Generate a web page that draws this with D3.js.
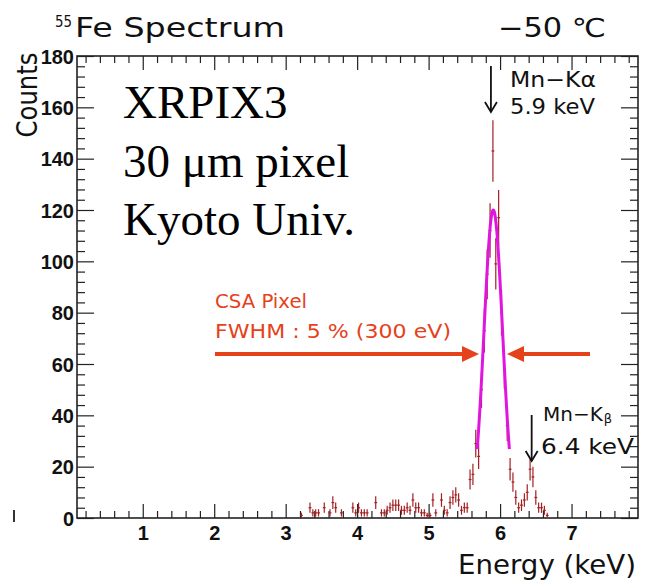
<!DOCTYPE html>
<html><head><meta charset="utf-8">
<script src="https://cdn.jsdelivr.net/npm/d3@7"></script>
<style>html,body{margin:0;padding:0;background:#fff;}svg{display:block;}</style>
</head><body>
<svg id="c" width="654" height="583"></svg>
<script>
// ---- data ----
const binEnergy = [3.22,3.26,3.30,3.34,3.38,3.42,3.46,3.50,3.54,3.58,3.62,3.66,3.70,3.74,3.78,3.82,3.86,3.90,3.94,3.98,
  4.02,4.06,4.10,4.14,4.18,4.22,4.26,4.30,4.34,4.38,4.42,4.46,4.50,4.54,4.58,4.62,4.66,4.70,4.74,4.78,
  4.82,4.86,4.90,4.94,4.98,5.02,5.06,5.10,5.14,5.18,5.22,5.26,5.30,5.34,5.38,5.42,5.46,5.50,5.54,5.58,
  5.62,5.66,5.70,5.74,5.78,5.82,5.86,5.90,5.94,5.98,6.02,6.06,6.10,6.14,6.18,6.22,6.26,6.30,6.34,6.38,
  6.42,6.46,6.50,6.54,6.58,6.62,6.66];
const binCounts = [1,0,0,4,2,2,2,0,4,0,2,6,4,0,2,0,0,0,4,2,
  4,2,2,2,0,0,6,0,2,2,3,4,5,5,5,3,3,4,3,7,
  4,4,2,2,1,1,7,2,0,7,3,2,6,8,9,7,3,4,4,15,
  17,29,24,50,73,95,112,143,99,117,80,58,36,19,14,8,4,5,7,10,
  19,16,8,4,4,3,1];
const binWidth = 0.04;
// Gaussian fit parameters (Mn-Kα line)
const fitAmp = 120, fitMean = 5.905, fitSigma = 0.13, fitRange = [5.68, 6.13];
const xMajorTicks = [1,2,3,4,5,6,7];
const yMajorTicks = [0,20,40,60,80,100,120,140,160,180];

// ---- layout ----
const svg = d3.select("#c");
const L = 77, R = 638, T = 56, B = 518;
const x = d3.scaleLinear().domain([0.08, 7.93]).range([L, R]);
const y = d3.scaleLinear().domain([0, 180]).range([B, T]);
const sans = "'DejaVu Sans', 'Noto Sans', sans-serif";
const arial = "'Liberation Sans', Arial, sans-serif";
const serif = "'Liberation Serif', 'Times New Roman', serif";

const xMinor = d3.range(0.2, 7.93, 0.2).filter(v => Math.abs(v - Math.round(v)) > 1e-6);
const yMinor = d3.range(0, 181, 4).filter(v => v % 20 !== 0);

function styleAxis(g){ g.select(".domain").remove(); g.selectAll("line").attr("stroke","#222").attr("stroke-width",1.2); }

// bottom
svg.append("g").attr("transform",`translate(0,${B})`)
  .call(d3.axisBottom(x).tickValues(xMajorTicks).tickSize(-14).tickPadding(22).tickFormat(d3.format("d")))
  .call(styleAxis)
  .call(g=>g.selectAll("text").attr("font-family",arial).attr("font-weight","bold").attr("font-size",20).attr("fill","#111").attr("dy","0"));
svg.append("g").attr("transform",`translate(0,${B})`)
  .call(d3.axisBottom(x).tickValues(xMinor).tickSize(-7).tickFormat(""))
  .call(styleAxis);
// top
svg.append("g").attr("transform",`translate(0,${T})`)
  .call(d3.axisTop(x).tickValues(xMajorTicks).tickSize(-14).tickFormat(""))
  .call(styleAxis);
svg.append("g").attr("transform",`translate(0,${T})`)
  .call(d3.axisTop(x).tickValues(xMinor).tickSize(-7).tickFormat(""))
  .call(styleAxis);
// left
svg.append("g").attr("transform",`translate(${L},0)`)
  .call(d3.axisLeft(y).tickValues(yMajorTicks).tickSize(-17).tickPadding(3))
  .call(styleAxis)
  .call(g=>g.selectAll("text").attr("font-family",arial).attr("font-weight","bold").attr("font-size",20).attr("fill","#111").attr("dy","0.36em"));
svg.append("g").attr("transform",`translate(${L},0)`)
  .call(d3.axisLeft(y).tickValues(yMinor).tickSize(-8).tickFormat(""))
  .call(styleAxis);
// right
svg.append("g").attr("transform",`translate(${R},0)`)
  .call(d3.axisRight(y).tickValues(yMajorTicks).tickSize(-17).tickFormat(""))
  .call(styleAxis);
svg.append("g").attr("transform",`translate(${R},0)`)
  .call(d3.axisRight(y).tickValues(yMinor).tickSize(-8).tickFormat(""))
  .call(styleAxis);

// frame
svg.append("rect").attr("x",L).attr("y",T).attr("width",R-L).attr("height",B-T)
  .attr("fill","none").attr("stroke","#222").attr("stroke-width",1.6);

// ---- data points with error bars ----
const pts = binEnergy.map((e,i)=>({e, n: binCounts[i]})).filter(d=>d.n>0);
const red = "#a31f22";
const gp = svg.append("g").attr("stroke",red).attr("stroke-width",1.2);
gp.selectAll("line.v").data(pts).join("line").attr("class","v")
  .attr("x1",d=>x(d.e)).attr("x2",d=>x(d.e))
  .attr("y1",d=>y(Math.max(0,d.n-Math.sqrt(d.n)))).attr("y2",d=>y(d.n+Math.sqrt(d.n)));
gp.selectAll("line.h").data(pts).join("line").attr("class","h")
  .attr("x1",d=>x(d.e-binWidth/2)).attr("x2",d=>x(d.e+binWidth/2))
  .attr("y1",d=>y(d.n)).attr("y2",d=>y(d.n));

// ---- fit curve ----
const fitX = d3.range(fitRange[0], fitRange[1]+1e-9, 0.005);
const gauss = e => fitAmp*Math.exp(-((e-fitMean)**2)/(2*fitSigma*fitSigma));
svg.append("path").datum(fitX)
  .attr("d", d3.line().x(e=>x(e)).y(e=>y(gauss(e))))
  .attr("fill","none").attr("stroke","#e015e0").attr("stroke-width",3).attr("stroke-linejoin","round");

// ---- texts ----
const t1 = svg.append("text").attr("font-family",sans).attr("fill","#111");
t1.append("tspan").attr("x",55).attr("y",27).attr("font-size",16).attr("textLength",17).attr("lengthAdjust","spacingAndGlyphs").text("55");
t1.append("tspan").attr("x",75).attr("y",37).attr("font-size",26).attr("textLength",210).attr("lengthAdjust","spacingAndGlyphs").text("Fe Spectrum");
svg.append("text").attr("x",498).attr("y",37).attr("font-family",sans).attr("font-size",26)
  .attr("textLength",108).attr("lengthAdjust","spacingAndGlyphs").attr("fill","#111").text("−50 ℃");

svg.append("text").attr("transform","translate(37,95) rotate(-90)").attr("text-anchor","middle")
  .attr("font-family",sans).attr("font-size",28).attr("fill","#111")
  .attr("textLength",85).attr("lengthAdjust","spacingAndGlyphs").text("Counts");
svg.append("text").attr("x",636).attr("y",574).attr("text-anchor","end").attr("font-family",sans)
  .attr("font-size",27).attr("fill","#111").attr("textLength",178).attr("lengthAdjust","spacingAndGlyphs").text("Energy (keV)");

const big = [["XRPIX3",118],["30 μm pixel",177],["Kyoto Univ.",235]];
svg.selectAll("text.big").data(big).join("text").attr("class","big")
  .attr("x",123).attr("y",d=>d[1]).attr("font-family",serif).attr("font-size",47).attr("fill","#000").text(d=>d[0]);

// Mn-Kα
svg.append("text").attr("x",510).attr("y",87).attr("font-family",sans).attr("font-size",22).attr("fill","#111")
  .attr("textLength",86).attr("lengthAdjust","spacingAndGlyphs").text("Mn−Kα");
svg.append("text").attr("x",510).attr("y",114).attr("font-family",sans).attr("font-size",22).attr("fill","#111")
  .attr("textLength",85).attr("lengthAdjust","spacingAndGlyphs").text("5.9 keV");
// Mn-Kβ (subscript placed explicitly after the measured main text)
const kb = svg.append("text").attr("x",543).attr("y",421).attr("font-family",sans).attr("font-size",20).attr("fill","#111");
const kbMain = kb.append("tspan").attr("x",543).text("Mn−K");
const kbW = kbMain.node().getComputedTextLength();
kb.append("tspan").attr("x",543 + kbW + 1).attr("font-size",13).attr("dy",2).text("β");
svg.append("text").attr("x",541).attr("y",454).attr("font-family",sans).attr("font-size",22).attr("fill","#111")
  .attr("textLength",93).attr("lengthAdjust","spacingAndGlyphs").text("6.4 keV");

function downArrow(cx, y0, y1){
  svg.append("line").attr("x1",cx).attr("x2",cx).attr("y1",y0).attr("y2",y1).attr("stroke","#111").attr("stroke-width",1.8);
  svg.append("path").attr("d",`M${cx-6},${y1-10} L${cx},${y1} L${cx+6},${y1-10}`)
    .attr("fill","none").attr("stroke","#111").attr("stroke-width",1.8);
}
downArrow(x(5.9)-2, 66, 112);
downArrow(x(6.4)+3, 415, 461);

// CSA annotation
const orange = "#e5421b";
svg.append("text").attr("x",215).attr("y",308).attr("font-family",sans).attr("font-size",20).attr("fill",orange)
  .attr("textLength",92).attr("lengthAdjust","spacingAndGlyphs").text("CSA Pixel");
svg.append("text").attr("x",215).attr("y",338).attr("font-family",sans).attr("font-size",20).attr("fill",orange)
  .attr("textLength",236).attr("lengthAdjust","spacingAndGlyphs").text("FWHM : 5 % (300 eV)");
const ay = 354;
svg.append("line").attr("x1",215).attr("x2",466).attr("y1",ay).attr("y2",ay).attr("stroke",orange).attr("stroke-width",4);
svg.append("path").attr("d",`M462,${ay-8} L479,${ay} L462,${ay+8} Z`).attr("fill",orange);
svg.append("line").attr("x1",590).attr("x2",520).attr("y1",ay).attr("y2",ay).attr("stroke",orange).attr("stroke-width",4);
svg.append("path").attr("d",`M524,${ay-8} L507,${ay} L524,${ay+8} Z`).attr("fill",orange);

// small artifact mark
svg.append("line").attr("x1",14).attr("x2",14).attr("y1",510).attr("y2",522).attr("stroke","#333").attr("stroke-width",2);
</script>
</body></html>
